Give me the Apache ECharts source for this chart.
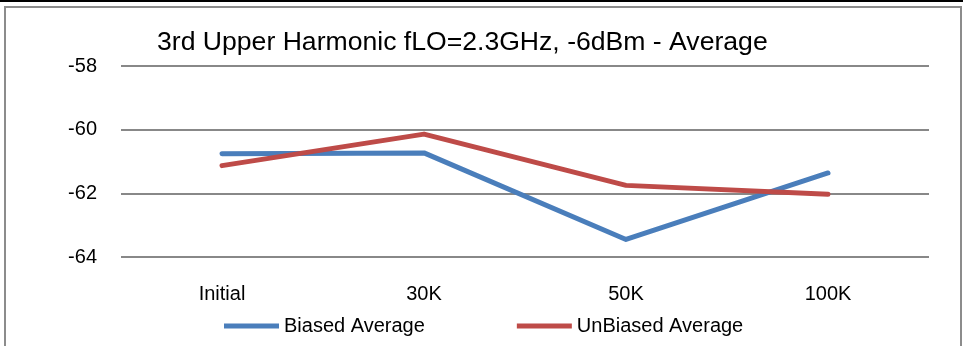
<!DOCTYPE html>
<html>
<head>
<meta charset="utf-8">
<script src="https://cdn.jsdelivr.net/npm/echarts@6/dist/echarts.min.js"></script>
<style>
  html, body { margin: 0; padding: 0; background: #fff; }
  #chart { width: 963px; height: 346px; }
</style>
</head>
<body>
<div id="chart"></div>
<script>
// categories and values
const categories = ['Initial', '30K', '50K', '100K']
const biasedAverage = [-60.76, -60.73, -63.45, -61.36]
const unbiasedAverage = [-61.13, -60.14, -61.75, -62.03]
const seriesNames = ['Biased Average', 'UnBiased Average']

const chart = echarts.init(document.getElementById('chart'))
const font = 'Liberation Sans, Arial, sans-serif'

const option = {
  animation: false,
  backgroundColor: '#fff',
  title: {
    text: '3rd Upper Harmonic fLO=2.3GHz, -6dBm - Average',
    left: 152,
    top: 24,
    textStyle: { fontFamily: font, fontSize: 26.6, fontWeight: 'normal', color: '#000' }
  },
  // chart frame
  graphic: [
    { type: 'rect', shape: { x: 0, y: 0, width: 963, height: 2 }, style: { fill: '#000' } },
    { type: 'rect', shape: { x: 5, y: 7, width: 956, height: 360 }, style: { fill: 'none', stroke: '#8c8c8c', lineWidth: 2 } }
  ],
  legend: {
    data: seriesNames,
    left: 219,
    top: 311,
    icon: 'rect',
    itemWidth: 55,
    itemHeight: 5,
    itemGap: 92,
    textStyle: { fontFamily: font, fontSize: 20, color: '#000' }
  },
  grid: { left: 121, right: 34, top: 66, bottom: 89 },
  xAxis: {
    type: 'category',
    data: categories,
    boundaryGap: true,
    axisLine: { show: false },
    axisTick: { show: false },
    axisLabel: { margin: 27, fontFamily: font, fontSize: 20, color: '#000' }
  },
  yAxis: {
    type: 'value',
    min: -64,
    max: -58,
    interval: 2,
    axisLine: { show: false },
    axisTick: { show: false },
    axisLabel: { margin: 24, fontFamily: font, fontSize: 20, color: '#000' },
    splitLine: { lineStyle: { color: '#888', width: 2 } }
  },
  series: [
    {
      name: seriesNames[0],
      type: 'line',
      data: biasedAverage,
      symbol: 'none',
      color: '#4a7ebb',
      lineStyle: { width: 5, cap: 'round', join: 'round' }
    },
    {
      name: seriesNames[1],
      type: 'line',
      data: unbiasedAverage,
      symbol: 'none',
      color: '#be4b48',
      lineStyle: { width: 5, cap: 'round', join: 'round' }
    }
  ]
}

chart.setOption(option)
</script>
</body>
</html>
